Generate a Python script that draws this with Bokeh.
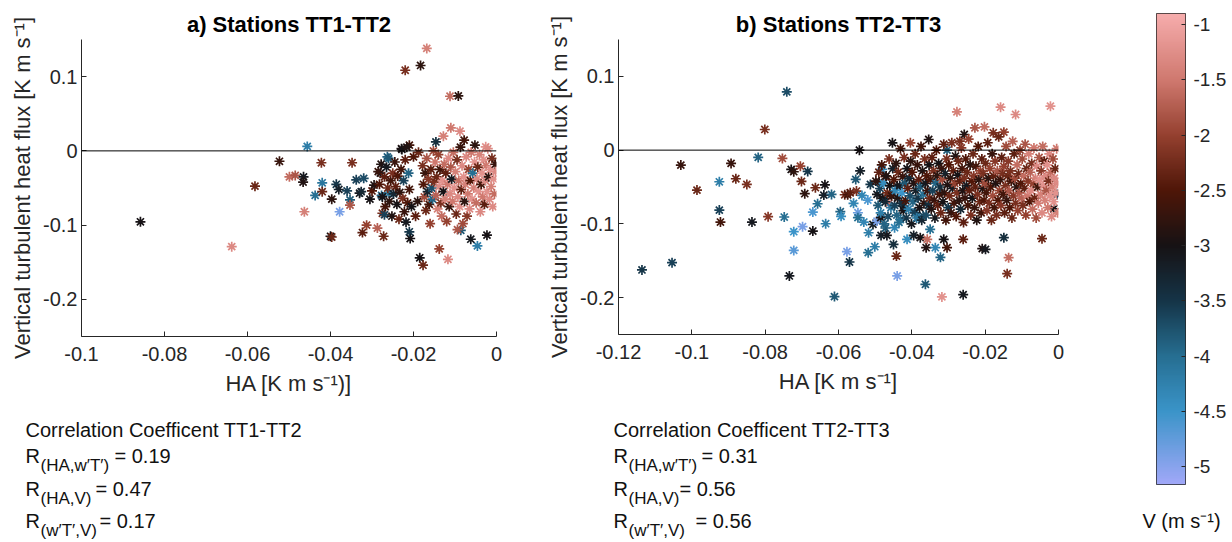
import numpy as np
from bokeh.plotting import figure
from bokeh.models import (Range1d, FixedTicker, CustomJSTickFormatter, Span, Label,
                          LinearColorMapper, ColumnDataSource)
from bokeh.layouts import row, column
from bokeh.embed import file_html
from bokeh.resources import INLINE

FONT = "Liberation Sans"
TXT = "#262626"

# ---------------- colour scale ----------------
V_LOW, V_HIGH = -5.16, -0.9
cbar_ticks = [-5, -4.5, -4, -3.5, -3, -2.5, -2, -1.5, -1]
cmap_vals = [-5.16, -4.5, -4.0, -3.5, -3.0, -2.5, -2.0, -1.5, -0.9]
cmap_cols = ["#a0a8f8", "#3a94c8", "#266e91", "#153447", "#161214",
             "#4e1608", "#94402f", "#cf786e", "#f6acac"]

# ---------------- panel a : stations TT1-TT2 ----------------
a_x_out = [-0.0858, -0.0638, -0.0582, -0.0523, -0.0499, -0.0485, -0.0465, -0.0466, -0.0456, -0.0463,
           -0.0437, -0.0420, -0.0422, -0.0420, -0.0397, -0.0400, -0.0397, -0.0386, -0.0380, -0.0378,
           -0.0360, -0.0353, -0.0353, -0.0348, -0.0338, -0.0330, -0.0326, -0.0320, -0.0323, -0.0313,
           -0.0305, -0.0300, -0.0295, -0.0287, -0.0280, -0.0277, -0.0275, -0.0272, -0.0270, -0.0263,
           -0.0259, -0.0168, -0.0220, -0.0183, -0.0112, -0.0092, -0.0110, -0.0088, -0.0128, -0.0078,
           -0.0052, -0.0146, -0.0026, -0.0229, -0.0210, -0.0185, -0.0177, -0.0138, -0.0117, -0.0046,
           -0.0023, -0.0062, -0.0208, -0.0210, -0.0086, -0.0094]
a_y_out = [-0.0955, -0.129, -0.0475, -0.014, -0.035, -0.033, -0.035, -0.042, 0.006, -0.082,
           -0.060, -0.043, -0.016, -0.055, -0.065, -0.115, -0.116, -0.045, -0.052, -0.082,
           -0.054, -0.066, -0.073, -0.016, -0.039, -0.057, -0.055, -0.037, -0.110, -0.100,
           -0.065, -0.054, -0.046, -0.104, -0.030, -0.060, -0.084, -0.115, -0.086, -0.008,
           -0.057, 0.138, 0.1086, 0.115, 0.0736, 0.074, 0.031, 0.0265, 0.0198, 0.0144,
           0.0077, 0.012, 0.0054, 0.003, 0.0077, -0.144, -0.154, -0.132, -0.146, -0.128,
           -0.1135, -0.119, -0.118, -0.109, -0.107, -0.106]
a_v_out = [-3.0, -1.3, -2.3, -2.7, -1.6, -1.8, -3.1, -2.9, -4.2, -1.4,
           -4.0, -4.1, -2.2, -2.3, -2.8, -3.0, -2.3, -3.5, -3.2, -4.9,
           -3.6, -3.8, -1.8, -2.2, -3.6, -3.1, -3.3, -3.7, -2.4, -2.0,
           -3.0, -2.5, -2.9, -1.7, -3.1, -3.9, -2.2, -2.3, -3.6, -3.9,
           -4.0, -1.4, -2.2, -2.8, -1.6, -2.8, -1.5, -1.3, -1.4, -2.6,
           -2.8, -3.4, -1.2, -2.9, -2.6, -3.0, -2.3, -2.0, -1.3, -4.2,
           -3.0, -3.1, -3.0, -3.5, -3.8, -1.8]

a_x_c1 = [-0.0285, -0.0282, -0.0278, -0.0275, -0.0270, -0.0268, -0.0265, -0.0262, -0.0260, -0.0258, -0.0255, -0.0252, -0.0250, -0.0248]
a_y_c1 = [-0.028, -0.045, -0.018, -0.062, -0.035, -0.075, -0.022, -0.050, -0.010, -0.068, -0.040, -0.088, -0.030, -0.058]
a_v_c1 = [-2.7, -2.5, -2.9, -3.0, -2.4, -2.6, -3.1, -2.3, -3.8, -2.8, -2.6, -2.9, -2.2, -3.3]

a_x_c2 = [-0.0245, -0.0243, -0.0240, -0.0238, -0.0235, -0.0233, -0.0230, -0.0228, -0.0226, -0.0224, -0.0222, -0.0220, -0.0218, -0.0216, -0.0214, -0.0212, -0.0210]
a_y_c2 = [-0.015, -0.048, -0.072, -0.034, -0.092, -0.056, -0.025, 0.002, -0.064, -0.040, -0.082, -0.012, -0.096, 0.005, -0.070, -0.030, -0.052]
a_v_c2 = [-2.7, -2.4, -3.0, -2.5, -2.3, -2.8, -2.6, -3.0, -2.2, -3.6, -2.7, -2.4, -3.1, -2.9, -2.5, -3.9, -2.6]

a_x_c3 = [-0.0205, -0.0200, -0.0195, -0.0190, -0.0188, -0.0178, -0.0176, -0.0174, -0.0172, -0.0170, -0.0168, -0.0166, -0.0164, -0.0162, -0.0160, -0.0158, -0.0156, -0.0154, -0.0152, -0.0150]
a_y_c3 = [-0.075, -0.008, -0.088, -0.068, -0.002, -0.020, -0.045, -0.062, -0.030, -0.080, -0.010, -0.055, -0.038, -0.072, -0.098, -0.025, -0.050, -0.065, 0.000, -0.042]
a_v_c3 = [-3.0, -2.5, -2.4, -2.8, -2.3, -2.2, -2.5, -1.9, -2.7, -2.3, -1.8, -3.2, -2.1, -2.6, -2.0, -2.4, -3.7, -3.9, -1.9, -2.2]

a_x_c4 = [-0.0148, -0.0146, -0.0144, -0.0142, -0.0140, -0.0138, -0.0136, -0.0134, -0.0132, -0.0130, -0.0128, -0.0126, -0.0124, -0.0122, -0.0120, -0.0118, -0.0116, -0.0114, -0.0112, -0.0110, -0.0108, -0.0106, -0.0104, -0.0102]
a_y_c4 = [-0.015, -0.060, -0.035, -0.078, -0.005, -0.048, -0.025, -0.070, -0.088, -0.040, -0.055, -0.018, -0.065, -0.030, -0.095, -0.045, -0.010, -0.075, -0.058, -0.022, -0.038, -0.068, -0.002, -0.050]
a_v_c4 = [-1.5, -1.7, -2.3, -1.4, -2.0, -1.3, -2.6, -2.2, -1.6, -1.2, -3.0, -1.6, -1.4, -2.4, -2.0, -1.5, -1.3, -2.7, -1.3, -1.8, -3.1, -1.5, -1.6, -1.2]

a_x_c5 = [-0.0099, -0.0097, -0.0095, -0.0093, -0.0091, -0.0089, -0.0087, -0.0085, -0.0083, -0.0081, -0.0079, -0.0077, -0.0075, -0.0073, -0.0071, -0.0069, -0.0067, -0.0065, -0.0063, -0.0061, -0.0059, -0.0057, -0.0055, -0.0053]
a_y_c5 = [-0.028, -0.085, -0.012, -0.062, -0.040, -0.075, 0.005, -0.052, -0.020, -0.098, -0.035, -0.068, -0.045, -0.008, -0.088, -0.058, -0.025, -0.078, -0.040, -0.002, -0.065, -0.030, -0.050, -0.015]
a_v_c5 = [-1.4, -2.3, -2.2, -1.3, -1.6, -1.2, -2.7, -2.4, -1.3, -1.9, -1.2, -2.8, -1.4, -1.3, -2.1, -1.5, -2.0, -1.3, -2.5, -1.5, -1.2, -4.0, -1.4, -1.2]

a_x_c6 = [-0.0049, -0.0047, -0.0045, -0.0043, -0.0041, -0.0039, -0.0037, -0.0035, -0.0033, -0.0031, -0.0029, -0.0027, -0.0025, -0.0023, -0.0021, -0.0019, -0.0017, -0.0015, -0.0013, -0.0011, -0.0009, -0.0007, -0.0005, -0.0003, -0.0002]
a_y_c6 = [-0.070, -0.038, -0.022, -0.055, -0.005, -0.082, -0.045, -0.030, -0.062, -0.012, -0.072, -0.040, -0.020, -0.055, 0.003, -0.035, -0.065, -0.025, -0.048, -0.010, -0.075, -0.038, -0.058, -0.018, -0.028]
a_v_c6 = [-1.6, -1.3, -2.3, -1.2, -1.4, -1.3, -2.6, -1.2, -1.5, -1.2, -2.4, -1.3, -1.5, -1.2, -1.3, -2.8, -1.3, -1.2, -1.4, -2.2, -1.3, -1.2, -1.6, -2.7, -1.3]

# ---------------- panel b : stations TT2-TT3 ----------------
b_x_out = [-0.1136, -0.1054, -0.1030, -0.0986, -0.0925, -0.0925, -0.0922, -0.0893, -0.0880, -0.0850,
           -0.0836, -0.0819, -0.0801, -0.0792, -0.0753, -0.0748, -0.0741, -0.0729, -0.0722, -0.0722,
           -0.0722, -0.0734, -0.0701, -0.0704, -0.0698, -0.0692, -0.0684, -0.0670, -0.0670, -0.0663,
           -0.0657, -0.0637, -0.0640, -0.0635, -0.0619, -0.0611, -0.0595, -0.0593, -0.0577, -0.0570,
           -0.0583, -0.0575, -0.0568, -0.0559, -0.0551, -0.0553, -0.0547, -0.0547, -0.0543, -0.0541,
           -0.0536, -0.0531, -0.0520, -0.0518, -0.0519, -0.0513, -0.0506, -0.0501, -0.0495, -0.0489,
           -0.0485, -0.0484, -0.0481, -0.0477, -0.0472, -0.0472, -0.0468, -0.0463, -0.0459, -0.0453,
           -0.0450, -0.0447, -0.0442, -0.0440, -0.0440, -0.0431, -0.0422, -0.0413, -0.0404, -0.0395,
           -0.0390, -0.0381, -0.0377, -0.0369, -0.0363, -0.0361, -0.0358, -0.0354, -0.0350, -0.0336,
           -0.0322, -0.0318, -0.0313, -0.0304, -0.0260, -0.0260, -0.0208, -0.0199, -0.0149, -0.0136,
           -0.0140, -0.0045, -0.0013, -0.0004, -0.0277, -0.0158, -0.0117, -0.0022, -0.0228, -0.0202,
           -0.0257, -0.0269, -0.0178, -0.0149, -0.0304]
b_y_out = [-0.1625, -0.1526, -0.0203, -0.0542, -0.0429, -0.0813, -0.0975, -0.0180, -0.0388, -0.0465,
           -0.0975, -0.0099, 0.0280, -0.0903, -0.0113, -0.0907, 0.0790, -0.0262, -0.0293, -0.1106,
           -0.1360, -0.1706, -0.0424, -0.0217, -0.1038, -0.0591, -0.0289, -0.1097, -0.0840, -0.0510,
           -0.0727, -0.0470, -0.0610, -0.0998, -0.0600, -0.1986, -0.0835, -0.0898, -0.1377, -0.1517,
           -0.0605, -0.0605, -0.0578, -0.0722, -0.0555, -0.0397, -0.0849, -0.0916, 0.0000, -0.0280,
           -0.0614, -0.0975, -0.0677, -0.1120, -0.1390, -0.0465, -0.1007, -0.1310, -0.0962, -0.0433,
           -0.0916, -0.1156, -0.0262, -0.0668, -0.0361, -0.1056, -0.1156, -0.0722, -0.0600, 0.0099,
           -0.1278, -0.1052, -0.1436, -0.1706, -0.0488, -0.0939, -0.0758, -0.1210, 0.0099, -0.1156,
           -0.0849, -0.0916, -0.1187, -0.0894, -0.1820, -0.1323, -0.1210, 0.0144, -0.1074, -0.1323,
           -0.1454, -0.1990, -0.1210, -0.1323, -0.1960, -0.1210, -0.1336, -0.1345, -0.1187, -0.1458,
           -0.1675, -0.1200, -0.0795, -0.0600, 0.0519, 0.0582, 0.0483, 0.0596, 0.0302, 0.0316,
           0.0212, 0.0122, 0.0235, 0.0244, 0.0000]
b_v_out = [-3.5, -3.6, -2.7, -2.3, -4.2, -3.6, -2.6, -2.7, -2.3, -2.2,
           -3.1, -3.9, -2.2, -2.1, -1.9, -4.0, -3.7, -3.0, -2.8, -4.5,
           -4.7, -3.1, -2.3, -2.0, -4.9, -2.8, -3.5, -3.0, -4.6, -2.3,
           -4.0, -3.0, -3.2, -4.2, -3.9, -3.8, -3.9, -4.4, -4.9, -3.5,
           -2.2, -2.6, -2.4, -4.3, -2.2, -3.8, -4.8, -4.0, -3.0, -3.2,
           -4.3, -4.3, -4.6, -4.2, -4.0, -3.5, -3.2, -4.2, -4.9, -2.9,
           -3.0, -3.2, -4.3, -3.9, -2.4, -3.8, -3.1, -1.4, -2.9, -3.0,
           -3.4, -4.3, -2.3, -4.9, -3.1, -4.0, -3.2, -4.4, -2.0, -3.2,
           -3.9, -4.3, -3.0, -3.6, -3.8, -2.9, -1.6, -2.9, -4.0, -4.3,
           -3.9, -1.2, -3.0, -2.6, -3.1, -2.4, -2.9, -3.1, -3.4, -1.6,
           -2.2, -2.3, -3.0, -3.6, -1.4, -1.3, -1.3, -1.2, -1.8, -1.6,
           -2.9, -2.2, -2.2, -2.0, -3.8]

b_x_c1 = [-0.0498, -0.0495, -0.0492, -0.0490, -0.0487, -0.0485, -0.0482, -0.0480, -0.0477, -0.0475, -0.0472, -0.0470, -0.0467, -0.0465, -0.0462, -0.0460, -0.0457, -0.0455, -0.0452]
b_y_c1 = [-0.042, -0.060, -0.075, -0.030, -0.052, -0.085, -0.020, -0.065, -0.045, -0.100, -0.070, -0.035, -0.058, -0.090, -0.012, -0.048, -0.078, -0.062, -0.025]
b_v_c1 = [-2.8, -3.1, -3.8, -2.4, -3.6, -4.2, -2.6, -3.0, -4.4, -3.9, -3.3, -2.9, -2.3, -3.7, -2.2, -3.0, -4.1, -2.7, -3.2]

b_x_c2 = [-0.0449, -0.0447, -0.0445, -0.0443, -0.0441, -0.0439, -0.0437, -0.0435, -0.0433, -0.0431, -0.0429, -0.0427, -0.0425, -0.0423, -0.0421, -0.0419, -0.0417, -0.0415, -0.0413, -0.0411, -0.0409, -0.0407, -0.0405, -0.0403, -0.0401]
b_y_c2 = [-0.040, -0.075, -0.055, -0.018, -0.088, -0.065, -0.030, -0.098, -0.048, 0.002, -0.072, -0.058, -0.036, -0.082, -0.010, -0.045, -0.068, -0.092, -0.025, -0.052, -0.080, -0.038, -0.062, -0.015, -0.100]
b_v_c2 = [-2.5, -3.6, -4.3, -2.8, -3.9, -2.9, -2.3, -4.0, -3.1, -2.6, -3.4, -4.5, -2.7, -3.0, -2.2, -3.8, -2.6, -3.5, -3.0, -2.4, -4.2, -3.3, -3.7, -2.8, -3.1]

b_x_c3 = [-0.0399, -0.0397, -0.0395, -0.0393, -0.0391, -0.0389, -0.0387, -0.0385, -0.0383, -0.0381, -0.0379, -0.0377, -0.0375, -0.0373, -0.0371, -0.0369, -0.0367, -0.0365, -0.0363, -0.0361, -0.0359, -0.0357, -0.0355, -0.0353, -0.0351]
b_y_c3 = [-0.030, -0.070, -0.045, -0.085, -0.005, -0.055, -0.092, -0.020, -0.065, -0.040, -0.078, -0.050, 0.005, -0.095, -0.028, -0.060, -0.072, -0.012, -0.045, -0.088, -0.035, -0.055, -0.075, -0.020, -0.065]
b_v_c3 = [-2.5, -3.9, -2.9, -3.6, -2.3, -3.2, -4.1, -2.7, -3.5, -2.4, -3.0, -3.8, -2.6, -3.3, -2.9, -4.0, -2.8, -2.2, -3.1, -3.7, -2.5, -2.7, -3.4, -3.0, -2.3]

b_x_c4 = [-0.0349, -0.0347, -0.0345, -0.0343, -0.0341, -0.0339, -0.0337, -0.0335, -0.0333, -0.0331, -0.0329, -0.0327, -0.0325, -0.0323, -0.0321, -0.0319, -0.0317, -0.0315, -0.0313, -0.0311, -0.0309, -0.0307, -0.0305, -0.0303, -0.0301]
b_y_c4 = [-0.040, -0.080, -0.010, -0.055, -0.028, -0.068, -0.092, -0.045, 0.000, -0.035, -0.075, -0.018, -0.060, -0.050, -0.085, -0.025, -0.040, -0.070, 0.008, -0.058, -0.032, -0.095, -0.012, -0.047, -0.078]
b_v_c4 = [-2.6, -2.9, -2.4, -3.6, -2.2, -2.7, -3.1, -3.9, -2.5, -2.8, -2.4, -3.0, -2.6, -3.4, -2.3, -2.7, -1.9, -3.0, -2.4, -2.8, -3.2, -2.6, -2.2, -2.9, -3.5]

b_x_c5 = [-0.0299, -0.0297, -0.0295, -0.0293, -0.0291, -0.0289, -0.0287, -0.0285, -0.0283, -0.0281, -0.0279, -0.0277, -0.0275, -0.0273, -0.0271, -0.0269, -0.0267, -0.0265, -0.0263, -0.0261, -0.0259, -0.0257, -0.0255, -0.0253, -0.0251]
b_y_c5 = [-0.020, -0.062, -0.038, -0.085, 0.010, -0.052, -0.028, -0.072, -0.045, -0.008, -0.090, -0.058, -0.034, -0.015, -0.068, -0.042, -0.080, 0.003, -0.025, -0.055, -0.098, -0.038, -0.065, -0.012, -0.048]
b_v_c5 = [-2.5, -2.3, -2.8, -2.7, -2.2, -3.1, -2.4, -2.6, -2.0, -2.9, -2.5, -2.2, -3.0, -2.3, -2.8, -2.4, -3.3, -2.1, -2.6, -2.9, -2.4, -2.2, -2.7, -2.5, -3.1]

b_x_c6 = [-0.0249, -0.0247, -0.0245, -0.0243, -0.0241, -0.0239, -0.0237, -0.0235, -0.0233, -0.0231, -0.0229, -0.0227, -0.0225, -0.0223, -0.0221, -0.0219, -0.0217, -0.0215, -0.0213, -0.0211, -0.0209, -0.0207, -0.0205, -0.0203, -0.0201]
b_y_c6 = [-0.030, -0.075, 0.015, -0.055, -0.020, -0.088, -0.042, -0.065, -0.005, -0.035, -0.078, -0.050, -0.022, -0.095, -0.060, 0.005, -0.040, -0.070, -0.028, -0.085, -0.012, -0.052, -0.032, -0.068, -0.045]
b_v_c6 = [-2.3, -2.6, -2.0, -2.4, -2.8, -2.2, -2.5, -3.0, -2.3, -2.1, -2.7, -2.4, -2.6, -2.9, -2.2, -2.5, -2.8, -2.3, -2.0, -2.6, -2.4, -2.9, -2.2, -2.5, -1.9]

b_x_c7 = [-0.0199, -0.0197, -0.0195, -0.0193, -0.0191, -0.0189, -0.0187, -0.0185, -0.0183, -0.0181, -0.0179, -0.0177, -0.0175, -0.0173, -0.0171, -0.0169, -0.0167, -0.0165, -0.0163, -0.0161, -0.0159, -0.0157, -0.0155, -0.0153, -0.0151]
b_y_c7 = [-0.018, -0.058, -0.082, 0.010, -0.038, -0.072, -0.025, -0.050, -0.095, -0.005, -0.062, -0.035, -0.078, -0.015, -0.045, -0.088, -0.028, -0.068, 0.018, -0.055, -0.040, -0.075, -0.010, -0.032, -0.060]
b_v_c7 = [-2.3, -2.6, -2.1, -2.4, -2.8, -2.2, -2.0, -2.5, -2.3, -2.7, -1.9, -2.4, -2.6, -2.1, -2.9, -2.2, -1.8, -2.5, -2.3, -2.0, -2.7, -2.1, -2.4, -2.2, -2.6]

b_x_c8 = [-0.0149, -0.0147, -0.0145, -0.0143, -0.0141, -0.0139, -0.0137, -0.0135, -0.0133, -0.0131, -0.0129, -0.0127, -0.0125, -0.0123, -0.0121, -0.0119, -0.0117, -0.0115, -0.0113, -0.0111, -0.0109, -0.0107, -0.0105, -0.0103, -0.0101]
b_y_c8 = [-0.022, -0.085, -0.048, 0.005, -0.068, -0.035, -0.015, -0.055, -0.078, -0.028, -0.042, -0.092, 0.012, -0.062, -0.005, -0.038, -0.072, -0.050, -0.020, -0.082, -0.032, -0.058, 0.000, -0.045, -0.065]
b_v_c8 = [-2.0, -2.4, -2.2, -1.9, -2.7, -2.3, -2.1, -1.8, -2.5, -2.2, -2.6, -2.3, -1.7, -2.1, -2.4, -1.9, -2.2, -2.8, -1.6, -2.0, -2.3, -1.8, -2.1, -2.5, -1.7]

b_x_c9 = [-0.0099, -0.0097, -0.0095, -0.0093, -0.0091, -0.0089, -0.0087, -0.0085, -0.0083, -0.0081, -0.0079, -0.0077, -0.0075, -0.0073, -0.0071, -0.0069, -0.0067, -0.0065, -0.0063, -0.0061, -0.0059, -0.0057, -0.0055, -0.0053, -0.0051]
b_y_c9 = [-0.012, -0.075, -0.035, -0.052, 0.008, -0.088, -0.025, -0.062, -0.042, -0.005, -0.070, -0.030, -0.055, -0.018, -0.080, -0.045, 0.003, -0.065, -0.038, -0.092, -0.022, -0.050, -0.072, -0.010, -0.040]
b_v_c9 = [-1.9, -2.2, -1.6, -2.4, -1.8, -2.0, -2.3, -1.5, -2.1, -1.4, -2.5, -1.7, -1.3, -2.2, -1.6, -2.0, -1.5, -2.3, -1.4, -1.9, -1.3, -2.6, -1.5, -1.8, -1.2]

b_x_c10 = [-0.0049, -0.0047, -0.0045, -0.0043, -0.0041, -0.0039, -0.0037, -0.0035, -0.0033, -0.0031, -0.0029, -0.0027, -0.0025, -0.0023, -0.0021, -0.0019, -0.0017, -0.0015, -0.0013, -0.0011, -0.0009, -0.0007, -0.0005, -0.0003, -0.0002]
b_y_c10 = [-0.060, -0.028, -0.085, 0.005, -0.048, -0.015, -0.068, -0.035, -0.055, -0.020, -0.078, -0.042, -0.005, -0.062, -0.030, -0.090, -0.050, -0.012, -0.070, -0.038, -0.025, -0.058, 0.002, -0.045, -0.085]
b_v_c10 = [-1.4, -2.1, -1.3, -1.6, -1.2, -2.4, -1.4, -1.3, -1.8, -1.2, -1.5, -2.2, -1.3, -1.2, -1.6, -1.3, -1.4, -1.9, -1.2, -1.3, -2.3, -1.2, -1.5, -1.3, -1.4]

# ---------------- ticks and texts ----------------
y_ticks = [-0.2, -0.1, 0, 0.1]
a_x_ticks = [-0.1, -0.08, -0.06, -0.04, -0.02, 0]
b_x_ticks = [-0.12, -0.1, -0.08, -0.06, -0.04, -0.02, 0]
a_title = "a) Stations TT1-TT2"
b_title = "b) Stations TT2-TT3"
a_xlabel = "HA [K m s\u207b\u00b9)]"
b_xlabel = "HA [K m s\u207b\u00b9]"
ylabel = "Vertical turbulent heat flux [K m s\u207b\u00b9]"
cbar_label = "V (m s\u207b\u00b9)"
a_corr_head = "Correlation Coefficent TT1-TT2"
b_corr_head = "Correlation Coefficent TT2-TT3"
corr_subs = ["(HA,w\u2032T\u2032)", "(HA,V)", "(w\u2032T\u2032,V)"]
a_corr_vals = ["= 0.19", "= 0.47", "= 0.17"]
b_corr_vals = ["= 0.31", "= 0.56", "= 0.56"]

# ---------------- build ----------------
def _rgb(h):
    return [int(h[i:i + 2], 16) for i in (1, 3, 5)]

rgb = np.array([_rgb(c) for c in cmap_cols], float)
levels = np.linspace(V_LOW, V_HIGH, 256)
palette = ["#%02x%02x%02x" % tuple(int(round(np.interp(g, cmap_vals, rgb[:, k]))) for k in range(3))
           for g in levels]
mapper = LinearColorMapper(palette=palette, low=V_LOW, high=V_HIGH)

fmt = CustomJSTickFormatter(code="return String(Math.round(tick*1000)/1000);")


def style_axis(ax, ticks):
    ax.ticker = FixedTicker(ticks=ticks)
    ax.formatter = fmt
    ax.major_tick_in = 5
    ax.major_tick_out = 0
    ax.minor_tick_line_color = None
    ax.axis_line_color = TXT
    ax.major_tick_line_color = TXT
    ax.major_label_text_font = FONT
    ax.major_label_text_font_size = "20px"
    ax.major_label_text_color = TXT
    ax.axis_label_text_font = FONT
    ax.axis_label_text_font_size = "22px"
    ax.axis_label_text_font_style = "normal"
    ax.axis_label_text_color = TXT


def panel(xs, ys, vs, xr, xticks, title, xlabel, fw, fh, mbl, mbr, mbb):
    p = figure(frame_width=fw, frame_height=fh, x_range=Range1d(*xr), y_range=Range1d(-0.25, 0.15),
               output_backend="svg", toolbar_location=None, title=title,
               min_border_left=mbl, min_border_right=mbr, min_border_top=39, min_border_bottom=mbb)
    p.outline_line_color = None
    p.grid.visible = False
    p.title.text_font = FONT
    p.title.text_font_size = "22px"
    p.title.text_font_style = "bold"
    p.title.align = "center"
    p.title.text_color = "#000000"
    p.title.standoff = 6
    style_axis(p.xaxis[0], xticks)
    style_axis(p.yaxis[0], y_ticks)
    p.xaxis.axis_label = xlabel
    p.yaxis.axis_label = ylabel
    p.xaxis.major_label_standoff = 10
    p.xaxis.axis_label_standoff = 7
    p.yaxis.major_label_standoff = 4
    p.yaxis.axis_label_standoff = 5
    src = ColumnDataSource(dict(x=xs, y=ys, v=vs))
    p.scatter("x", "y", source=src, marker="asterisk", size=10, line_width=1.7,
              line_color={"field": "v", "transform": mapper})
    p.add_layout(Span(location=0, dimension="width", line_color="#000000", line_width=1))
    return p


def text_fig(x0, x1, y0, y1):
    # a blank frame whose data coordinates equal page pixels
    t = figure(width=x1 - x0, height=y1 - y0, x_range=Range1d(x0, x1), y_range=Range1d(y1, y0),
               x_axis_location=None, y_axis_location=None, output_backend="svg",
               toolbar_location=None, min_border=0)
    t.outline_line_color = None
    t.grid.visible = False
    return t


def add_text(t, x, y, text, size, align="left"):
    t.add_layout(Label(x=x, y=y, text=text, text_font=FONT, text_font_size=size,
                       text_color="#111111", text_align=align, text_baseline="middle"))


ax_all = a_x_out + a_x_c1 + a_x_c2 + a_x_c3 + a_x_c4 + a_x_c5 + a_x_c6
ay_all = a_y_out + a_y_c1 + a_y_c2 + a_y_c3 + a_y_c4 + a_y_c5 + a_y_c6
av_all = a_v_out + a_v_c1 + a_v_c2 + a_v_c3 + a_v_c4 + a_v_c5 + a_v_c6
bx_all = b_x_out + b_x_c1 + b_x_c2 + b_x_c3 + b_x_c4 + b_x_c5 + b_x_c6 + b_x_c7 + b_x_c8 + b_x_c9 + b_x_c10
by_all = b_y_out + b_y_c1 + b_y_c2 + b_y_c3 + b_y_c4 + b_y_c5 + b_y_c6 + b_y_c7 + b_y_c8 + b_y_c9 + b_y_c10
bv_all = b_v_out + b_v_c1 + b_v_c2 + b_v_c3 + b_v_c4 + b_v_c5 + b_v_c6 + b_v_c7 + b_v_c8 + b_v_c9 + b_v_c10

# panel a: page x 0..543, frame 81..496 ; panel b: page x 543..1140, frame 618..1058
pa = panel(ax_all, ay_all, av_all, (-0.1, 0), a_x_ticks, a_title, a_xlabel, 415, 297, 81, 47, 70)
pb = panel(bx_all, by_all, bv_all, (-0.12, 0), b_x_ticks, b_title, b_xlabel, 440, 295, 75, 82, 72)

ta = text_fig(0, 543, 406, 542)
add_text(ta, 25, 429, a_corr_head, "20px")
for i, (yy, vx) in enumerate(zip([455, 488, 520], [114, 95, 99])):
    add_text(ta, 25, yy, "R", "20px")
    add_text(ta, 40, yy + 10, corr_subs[i], "17px")
    add_text(ta, vx, yy, a_corr_vals[i], "20px")

tb = text_fig(543, 1140, 406, 542)
add_text(tb, 613, 429, b_corr_head, "20px")
for i, (yy, vx) in enumerate(zip([455, 488, 520], [701, 679, 695])):
    add_text(tb, 613, yy, "R", "20px")
    add_text(tb, 628, yy + 10, corr_subs[i], "17px")
    add_text(tb, vx, yy, b_corr_vals[i], "20px")

# colour bar: page x 1140..1226, frame 1156..1185, y 13..484
pc = figure(frame_width=29, frame_height=471, x_range=Range1d(0, 1), y_range=Range1d(V_LOW, V_HIGH),
            x_axis_location=None, y_axis_location="right", output_backend="svg",
            toolbar_location=None, min_border_left=16, min_border_right=41,
            min_border_top=13, min_border_bottom=8)
pc.grid.visible = False
pc.outline_line_color = TXT
ramp = levels.reshape(-1, 1)
pc.image(image=[ramp], x=0, y=V_LOW, dw=1, dh=V_HIGH - V_LOW, color_mapper=mapper)
cax = pc.yaxis[0]
cax.ticker = FixedTicker(ticks=cbar_ticks)
cax.formatter = fmt
cax.major_tick_in = 4
cax.major_tick_out = 0
cax.minor_tick_line_color = None
cax.axis_line_color = None
cax.major_tick_line_color = TXT
cax.major_label_text_font = FONT
cax.major_label_text_font_size = "19px"
cax.major_label_text_color = TXT
cax.major_label_standoff = 8

tc = text_fig(1140, 1226, 492, 542)
add_text(tc, 1181, 520, cbar_label, "20px", align="center")

layout = row(column(column(pa), column(ta)),
             column(column(pb), column(tb)),
             column(column(pc), column(tc)))
open("out.html", "w").write(file_html(layout, INLINE))
